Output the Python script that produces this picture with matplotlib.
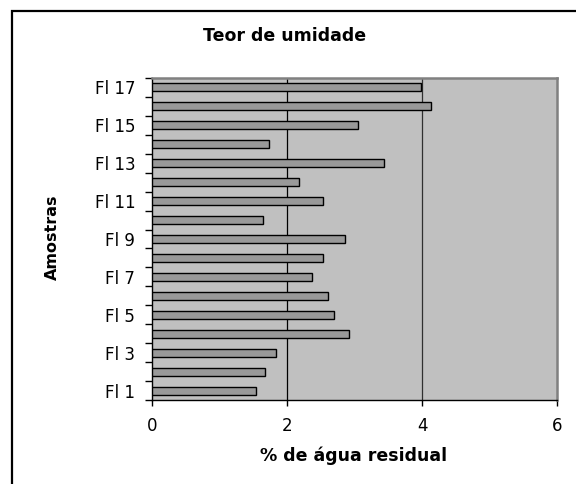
import matplotlib
matplotlib.use("Agg")
import matplotlib.pyplot as plt
from matplotlib.patches import Rectangle

categories = [f"Fl {i}" for i in range(1, 18)]
values = [1.54, 1.67, 1.83, 2.92, 2.70, 2.60, 2.37, 2.53, 2.86, 1.64,
          2.53, 2.18, 3.44, 1.74, 3.05, 4.14, 3.98]
x_ticks = [0, 2, 4, 6]
title = "Teor de umidade"
xlabel = "% de água residual"
ylabel = "Amostras"

plt.rcParams['font.family'] = ['DejaVu Sans']

fig = plt.figure(figsize=(5.76, 4.84), dpi=100)
fig.patches.append(Rectangle((12/576, -0.1), 1.2, 1 - 11/484 + 0.1,
                             transform=fig.transFigure, fill=False,
                             edgecolor='black', linewidth=1.6))

ax = fig.add_axes([152/576, 1 - 400/484, (557-152)/576, (400-78)/484])
ax.set_facecolor('#C0C0C0')
pos = list(range(len(categories)))
ax.barh(pos, values, height=0.42, color='#999999', edgecolor='black', linewidth=1.0, zorder=3)

ax.set_xlim(0, 6)
ax.set_ylim(-0.5, len(categories) - 0.5)
ax.set_xticks(x_ticks)
ax.set_xticklabels([str(t) for t in x_ticks], fontsize=12)
ax.axvline(2, color='black', linewidth=0.9, zorder=1)
ax.axvline(4, color='#303030', linewidth=0.9, zorder=1)

ax.set_yticks(pos[::2])
ax.set_yticklabels(categories[::2], fontsize=12)
ax.tick_params(axis='y', which='major', length=0, pad=12)
ax.set_yticks([p - 0.5 for p in pos] + [pos[-1] + 0.5], minor=True)
ax.tick_params(axis='y', which='minor', length=5, width=1, direction='out')
ax.tick_params(axis='x', which='major', length=4, width=1, direction='out', pad=8)

for s in ['top', 'right']:
    ax.spines[s].set_color('#808080')
    ax.spines[s].set_linewidth(1.8)
for s in ['left', 'bottom']:
    ax.spines[s].set_color('black')
    ax.spines[s].set_linewidth(1.0)

fig.text(285/576, 1 - 41/484, title, ha='center', va='baseline', fontsize=12.5, fontweight='bold')
fig.text(354/576, 1 - 461/484, xlabel, ha='center', va='baseline', fontsize=12.5, fontweight='bold')
fig.text(52/576, 1 - 237/484, ylabel, ha='center', va='center', rotation=90, fontsize=11.5, fontweight='bold')

fig.savefig("out.png", dpi=100)
